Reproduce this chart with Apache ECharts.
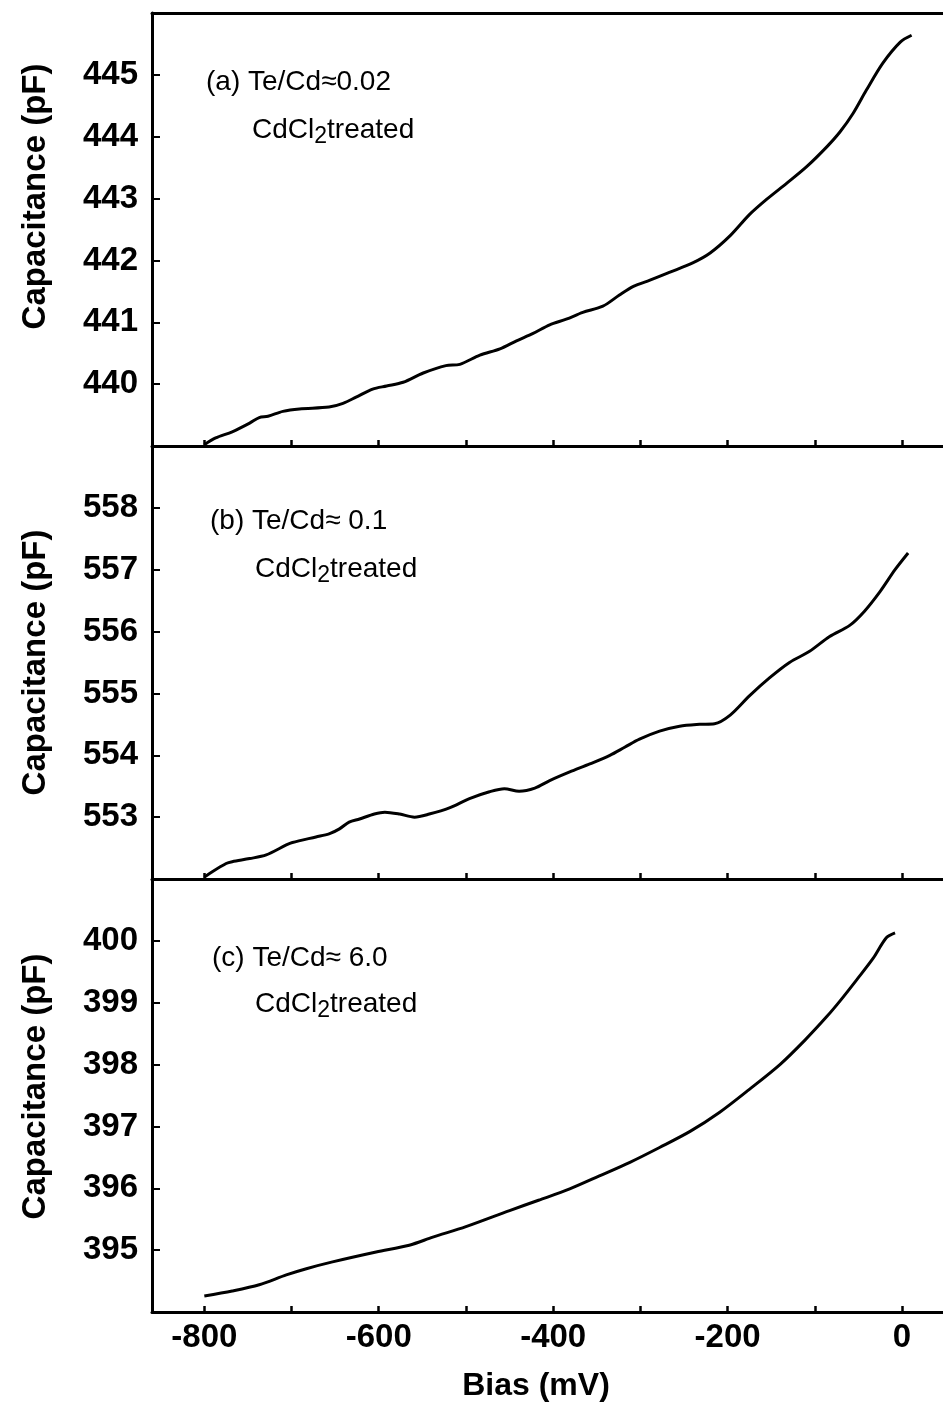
<!DOCTYPE html>
<html>
<head>
<meta charset="utf-8">
<style>
  html, body { margin: 0; padding: 0; background: #fff; }
  #chart { width: 943px; height: 1409px; }
</style>
<script src="https://cdn.jsdelivr.net/npm/echarts@6.0.0/dist/echarts.min.js"></script>
</head>
<body>
<div id="chart"></div>
<script>
// Bias sweep (mV) and measured capacitance (pF) for the three samples
const biasA = [-800,-787,-768,-748,-737,-727,-710,-691,-657,-641,-626,-607,-591,-572,-549,-523,-507,-484,-461,-442,-423,-404,-385,-366,-343,-324,-308,-289,-266,-240,-220,-197,-175,-155,-132,-109,-86,-71,-56,-41,-22,-2,11];
const capA  = [439.02,439.13,439.23,439.37,439.46,439.48,439.56,439.60,439.63,439.69,439.79,439.92,439.97,440.03,440.18,440.30,440.32,440.47,440.57,440.70,440.82,440.96,441.05,441.16,441.26,441.44,441.58,441.68,441.81,441.96,442.12,442.40,442.74,442.99,443.25,443.52,443.84,444.08,444.38,444.75,445.19,445.53,445.64];

const biasB = [-800,-794,-775,-768,-748,-729,-706,-699,-672,-657,-645,-634,-622,-605,-593,-576,-559,-542,-519,-496,-473,-456,-439,-421,-404,-381,-358,-335,-318,-301,-278,-255,-232,-215,-197,-175,-152,-129,-106,-83,-60,-43,-25,-8,7];
const capB  = [552.03,552.09,552.25,552.28,552.33,552.39,552.55,552.59,552.68,552.73,552.81,552.92,552.97,553.05,553.08,553.05,553.00,553.05,553.15,553.30,553.41,553.46,553.42,553.47,553.59,553.73,553.86,554.00,554.13,554.26,554.39,554.47,554.50,554.51,554.65,554.96,555.25,555.50,555.68,555.92,556.10,556.33,556.65,557.00,557.27];

const biasC = [-800,-768,-737,-706,-683,-653,-603,-565,-538,-500,-450,-416,-381,-347,-312,-278,-243,-209,-175,-140,-111,-86,-71,-52,-33,-18,-8];
const capC  = [394.26,394.34,394.44,394.60,394.70,394.81,394.97,395.08,395.21,395.38,395.64,395.81,395.99,396.20,396.42,396.66,396.92,397.23,397.60,398.00,398.40,398.78,399.03,399.37,399.72,400.05,400.13];

// Axis ticks and labels
const biasTicks  = [-800,-700,-600,-500,-400,-300,-200,-100,0];
const biasLabels = [-800,-600,-400,-200,0];
const capTicksA = [440,441,442,443,444,445];
const capTicksB = [553,554,555,556,557,558];
const capTicksC = [395,396,397,398,399,400];

// Panel captions
const ratioLabels = ['(a) Te/Cd\u22480.02', '(b) Te/Cd\u2248 0.1', '(c) Te/Cd\u2248 6.0'];
const treatLabel = ['CdCl', '2', 'treated'];

const FONT = '"Liberation Sans", Arial, Helvetica, sans-serif';
const BLACK = '#000';

const panels = [
  { bias: biasA, cap: capA, min: 439, max: 446, ticks: capTicksA, top: 13,  namePad: 66, cap1: [206, 82],  cap2: [252, 130] },
  { bias: biasB, cap: capB, min: 552, max: 559, ticks: capTicksB, top: 446, namePad: 0,  cap1: [210, 521], cap2: [255, 569] },
  { bias: biasC, cap: capC, min: 394, max: 401, ticks: capTicksC, top: 879, namePad: 18, cap1: [212, 958], cap2: [255, 1004] }
];
const PANEL_H = 433;
const X_MIN = -860, X_MAX = 47;

const grid = [], xAxis = [], yAxis = [], series = [], graphic = [];

panels.forEach((p, i) => {
  const last = i === panels.length - 1;
  grid.push({ left: 152, right: 0, top: p.top, height: PANEL_H });

  xAxis.push({
    type: 'value', gridIndex: i, min: X_MIN, max: X_MAX,
    axisLine: { show: true, onZero: false, lineStyle: { color: BLACK, width: 3 } },
    axisTick: { show: true, inside: true, length: 6, customValues: biasTicks,
                lineStyle: { color: BLACK, width: 2.5 } },
    axisLabel: { show: last, customValues: biasLabels, color: BLACK, fontSize: 33,
                 fontWeight: 'bold', fontFamily: FONT, margin: 9 },
    splitLine: { show: false },
    name: last ? 'Bias (mV)' : '',
    nameLocation: 'middle', nameGap: 58,
    nameTextStyle: { color: BLACK, fontSize: 32, fontWeight: 'bold', fontFamily: FONT, padding: [0, 23, 0, 0] }
  });

  yAxis.push({
    type: 'value', gridIndex: i, min: p.min, max: p.max,
    axisLine: { show: true, onZero: false, lineStyle: { color: BLACK, width: 3 } },
    axisTick: { show: true, inside: true, length: 8, customValues: p.ticks,
                lineStyle: { color: BLACK, width: 2 } },
    axisLabel: { customValues: p.ticks, color: BLACK, fontSize: 33, fontWeight: 'bold',
                 fontFamily: FONT, margin: 14 },
    splitLine: { show: false },
    name: 'Capacitance (pF)', nameLocation: 'middle', nameGap: 100,
    nameTextStyle: { color: BLACK, fontSize: 33, fontWeight: 'bold', fontFamily: FONT,
                     padding: [0, 0, 0, p.namePad] }
  });

  series.push({
    type: 'line', xAxisIndex: i, yAxisIndex: i,
    data: p.bias.map((b, k) => [b, p.cap[k]]),
    showSymbol: false, smooth: 0.3, silent: true,
    lineStyle: { color: BLACK, width: 3 }
  });

  graphic.push({
    type: 'text', x: p.cap1[0], y: p.cap1[1], silent: true,
    style: { text: ratioLabels[i], fill: BLACK, font: '28px ' + FONT,
             align: 'left', verticalAlign: 'middle', textAlign: 'left', textVerticalAlign: 'middle' }
  });
  graphic.push({
    type: 'text', x: p.cap2[0], y: p.cap2[1], silent: true,
    style: {
      text: '{n|' + treatLabel[0] + '}{s|' + treatLabel[1] + '}{n|' + treatLabel[2] + '}',
      fill: BLACK, font: '28px ' + FONT,
      align: 'left', verticalAlign: 'middle', textAlign: 'left', textVerticalAlign: 'middle',
      rich: {
        n: { fontSize: 28, fontFamily: FONT, fill: BLACK, color: BLACK, lineHeight: 37 },
        s: { fontSize: 23, fontFamily: FONT, fill: BLACK, color: BLACK, lineHeight: 22, verticalAlign: 'bottom' }
      }
    }
  });
});

// Top frame line of the upper panel
xAxis.push({
  type: 'value', gridIndex: 0, min: X_MIN, max: X_MAX, position: 'top',
  axisLine: { show: true, onZero: false, lineStyle: { color: BLACK, width: 3 } },
  axisTick: { show: false }, axisLabel: { show: false }, splitLine: { show: false }
});

const chart = echarts.init(document.getElementById('chart'), null, { renderer: 'canvas' });
chart.setOption({
  backgroundColor: '#fff',
  animation: false,
  grid, xAxis, yAxis, series, graphic
});
</script>
</body>
</html>
